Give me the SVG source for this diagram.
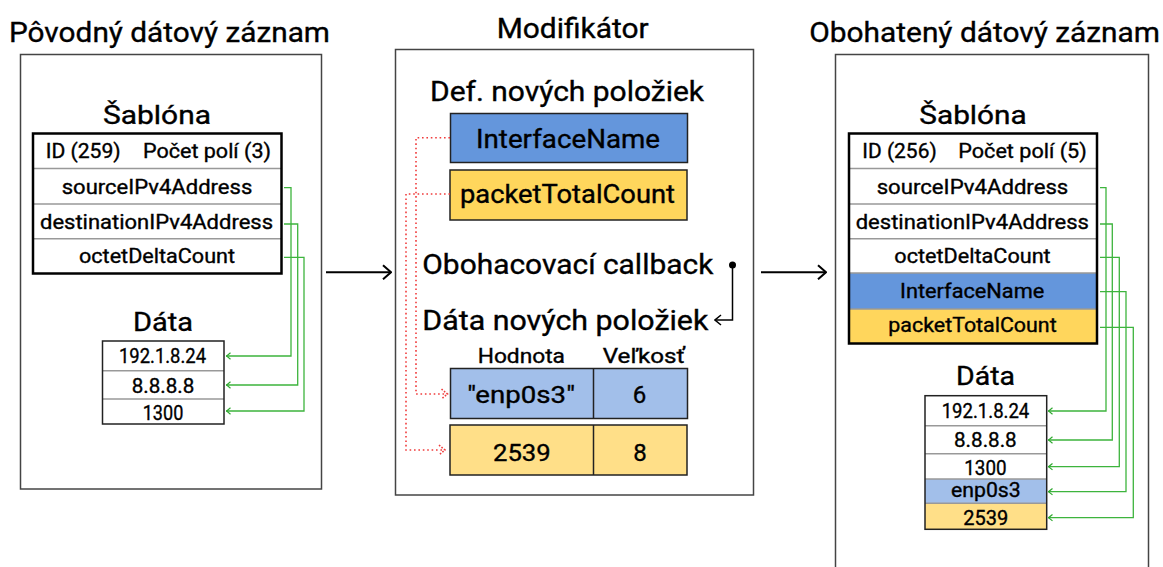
<svg xmlns="http://www.w3.org/2000/svg" width="1163" height="567" viewBox="0 0 1163 567">
<style>
text{font-family:Roboto,"Liberation Sans",sans-serif;fill:#000;font-weight:400;stroke:#000;stroke-width:0.35}
.t28{font-size:28px}
.t27{font-size:27px}
.t26{font-size:26px}
.t25{font-size:25px}
.t24{font-size:24px}
.t20{font-size:20px}
.mid{text-anchor:middle}
.outer{fill:#fff;stroke:#444;stroke-width:1.5}
.tbl{fill:none;stroke:#000;stroke-width:2.5}
.dtbl{fill:none;stroke:#222;stroke-width:1.5}
.sep{stroke:#999;stroke-width:1.5}
.blue{fill:#6496DC}
.lblue{fill:#A2BFEA}
.yel{fill:#FFD65C}
.lyel{fill:#FFDF88}
.cell{stroke:#222;stroke-width:1.5}
.green{fill:none;stroke:#3DB43D;stroke-width:1.3;marker-end:url(#ag)}
.red{fill:none;stroke:#F03C3C;stroke-width:1.6;stroke-dasharray:1.6 2.8;marker-end:url(#ar)}
.blk{fill:none;stroke:#000;stroke-width:2;marker-end:url(#ab)}
</style>
<defs>
<marker id="ab" markerUnits="userSpaceOnUse" viewBox="0 0 10 16" markerWidth="10" markerHeight="16" refX="9" refY="8" orient="auto"><path d="M1,1 L9,8 L1,15" fill="none" stroke="#000" stroke-width="2"/></marker>
<marker id="ab2" markerUnits="userSpaceOnUse" viewBox="0 0 8 12" markerWidth="8" markerHeight="12" refX="7" refY="6" orient="auto"><path d="M1,1 L7,6 L1,11" fill="none" stroke="#000" stroke-width="1.5"/></marker>
<marker id="ag" markerUnits="userSpaceOnUse" viewBox="0 0 6 8" markerWidth="6" markerHeight="8" refX="5.5" refY="4" orient="auto"><path d="M1,0.8 L5,4 L1,7.2" fill="none" stroke="#2FA82F" stroke-width="1.2"/></marker>
<marker id="ar" markerUnits="userSpaceOnUse" viewBox="0 0 8 12" markerWidth="8" markerHeight="12" refX="7" refY="6" orient="auto"><path d="M1,1 L7,6 L1,11" fill="none" stroke="#F03C3C" stroke-width="1.6" stroke-dasharray="1.6 1.6"/></marker>
</defs>
<rect width="1163" height="567" fill="#fff"/>

<g id="original">
<text class="t28" x="9" y="42" textLength="321" lengthAdjust="spacingAndGlyphs">Pôvodný dátový záznam</text>
<rect class="outer" x="20.5" y="54.5" width="301" height="434.5"/>
<g id="orig-template">
<text class="t25" x="103" y="124" textLength="108" lengthAdjust="spacingAndGlyphs">Šablóna</text>
<rect x="33" y="133.5" width="248.5" height="140" fill="#fff"/>
<line class="sep" x1="33" y1="168.5" x2="281.5" y2="168.5"/>
<line class="sep" x1="33" y1="204" x2="281.5" y2="204"/>
<line class="sep" x1="33" y1="238.7" x2="281.5" y2="238.7"/>
<rect class="tbl" x="33" y="133.5" width="248.5" height="140"/>
<text class="t20" x="45.7" y="158" textLength="75" lengthAdjust="spacingAndGlyphs">ID (259)</text>
<text class="t20" x="143" y="158" textLength="128" lengthAdjust="spacingAndGlyphs">Počet polí (3)</text>
<text class="t20" x="61.7" y="194" textLength="190.6" lengthAdjust="spacingAndGlyphs">sourceIPv4Address</text>
<text class="t20" x="40" y="229" textLength="233" lengthAdjust="spacingAndGlyphs">destinationIPv4Address</text>
<text class="t20" x="79" y="263.3" textLength="156" lengthAdjust="spacingAndGlyphs">octetDeltaCount</text>
</g>
<g id="orig-data">
<text class="t26" x="133" y="331" textLength="60" lengthAdjust="spacingAndGlyphs">Dáta</text>
<rect x="102.5" y="341" width="121.5" height="83" fill="#fff"/>
<line class="sep" x1="102.5" y1="370.7" x2="224" y2="370.7"/>
<line class="sep" x1="102.5" y1="399" x2="224" y2="399"/>
<rect class="dtbl" x="102.5" y="341" width="121.5" height="83"/>
<text class="t20" x="119" y="363" textLength="87" lengthAdjust="spacingAndGlyphs">192.1.8.24</text>
<text class="t20" x="131.7" y="392.5" textLength="62.6" lengthAdjust="spacingAndGlyphs">8.8.8.8</text>
<text class="t20" x="142.7" y="420" textLength="40.6" lengthAdjust="spacingAndGlyphs">1300</text>
</g>
</g>

<g id="modifier">
<text class="t28" x="496.7" y="37.7" textLength="152" lengthAdjust="spacingAndGlyphs">Modifikátor</text>
<rect class="outer" x="395.5" y="49.5" width="358" height="445.5"/>
<text class="t27" x="430" y="101" textLength="274" lengthAdjust="spacingAndGlyphs">Def. nových položiek</text>
<g id="def-iface">
<rect class="blue cell" x="450.5" y="113.5" width="237" height="49"/>
<text class="t25" x="476" y="147.5" textLength="184" lengthAdjust="spacingAndGlyphs">InterfaceName</text>
</g>
<g id="def-packet">
<rect class="yel cell" x="450" y="170" width="237" height="50"/>
<text class="t25" x="460" y="202.7" textLength="215" lengthAdjust="spacingAndGlyphs">packetTotalCount</text>
</g>
<text class="t27" x="422.3" y="274.3" textLength="291" lengthAdjust="spacingAndGlyphs">Obohacovací callback</text>
<text class="t27" x="422.3" y="330" textLength="286" lengthAdjust="spacingAndGlyphs">Dáta nových položiek</text>
<text class="t20" x="477.7" y="362.7" textLength="87.3" lengthAdjust="spacingAndGlyphs">Hodnota</text>
<text class="t20" x="602.7" y="362.7" textLength="82.3" lengthAdjust="spacingAndGlyphs">Veľkosť</text>
<g id="val-iface">
<rect class="lblue cell" x="450.5" y="368.5" width="237" height="50"/>
<line class="cell" x1="593.5" y1="368.5" x2="593.5" y2="418.5"/>
<text class="t24" x="467.3" y="403.3" textLength="107.7" lengthAdjust="spacingAndGlyphs">"enp0s3"</text>
<text class="t24 mid" x="639.5" y="403.3">6</text>
</g>
<g id="val-packet">
<rect class="lyel cell" x="450" y="425" width="237" height="50"/>
<line class="cell" x1="593.5" y1="425" x2="593.5" y2="475"/>
<text class="t24" x="493" y="461" textLength="57.7" lengthAdjust="spacingAndGlyphs">2539</text>
<text class="t24 mid" x="640" y="461">8</text>
</g>
</g>

<g id="enriched">
<text class="t28" x="809.3" y="41.7" textLength="350.7" lengthAdjust="spacingAndGlyphs">Obohatený dátový záznam</text>
<rect class="outer" x="835.5" y="54.5" width="313" height="530"/>
<g id="enr-template">
<text class="t25" x="919.3" y="124" textLength="107.4" lengthAdjust="spacingAndGlyphs">Šablóna</text>
<rect x="849" y="133.5" width="248" height="140" fill="#fff"/>
<rect class="blue" x="849" y="273" width="248" height="36"/>
<rect class="yel" x="849" y="309" width="248" height="34.5"/>
<line class="sep" x1="849" y1="168.5" x2="1097" y2="168.5"/>
<line class="sep" x1="849" y1="204" x2="1097" y2="204"/>
<line class="sep" x1="849" y1="238.7" x2="1097" y2="238.7"/>
<line class="sep" x1="849" y1="273" x2="1097" y2="273"/>
<line class="sep" x1="849" y1="309" x2="1097" y2="309"/>
<rect class="tbl" x="849" y="133.5" width="248" height="210"/>
<text class="t20" x="862.3" y="158" textLength="74.4" lengthAdjust="spacingAndGlyphs">ID (256)</text>
<text class="t20" x="958.3" y="158" textLength="128.4" lengthAdjust="spacingAndGlyphs">Počet polí (5)</text>
<text class="t20" x="876.7" y="194" textLength="191.6" lengthAdjust="spacingAndGlyphs">sourceIPv4Address</text>
<text class="t20" x="855.7" y="229" textLength="233.3" lengthAdjust="spacingAndGlyphs">destinationIPv4Address</text>
<text class="t20" x="894.3" y="263.3" textLength="156.4" lengthAdjust="spacingAndGlyphs">octetDeltaCount</text>
<text class="t20" x="900" y="298.3" textLength="144.3" lengthAdjust="spacingAndGlyphs">InterfaceName</text>
<text class="t20" x="888.3" y="331.7" textLength="168.4" lengthAdjust="spacingAndGlyphs">packetTotalCount</text>
</g>
<g id="enr-data">
<text class="t26" x="956" y="385" textLength="59" lengthAdjust="spacingAndGlyphs">Dáta</text>
<rect x="925" y="395.7" width="121.7" height="83.3" fill="#fff"/>
<rect class="lblue" x="925" y="479" width="121.7" height="24.3"/>
<rect class="lyel" x="925" y="503.3" width="121.7" height="26"/>
<line class="sep" x1="925" y1="425.7" x2="1046.7" y2="425.7"/>
<line class="sep" x1="925" y1="453.7" x2="1046.7" y2="453.7"/>
<line class="sep" x1="925" y1="479" x2="1046.7" y2="479"/>
<line class="sep" x1="925" y1="503.3" x2="1046.7" y2="503.3"/>
<rect class="dtbl" x="925" y="395.7" width="121.7" height="133.6"/>
<text class="t20" x="941.7" y="418.3" textLength="87.6" lengthAdjust="spacingAndGlyphs">192.1.8.24</text>
<text class="t20" x="954" y="446.7" textLength="62.7" lengthAdjust="spacingAndGlyphs">8.8.8.8</text>
<text class="t20" x="964.3" y="475" textLength="42.3" lengthAdjust="spacingAndGlyphs">1300</text>
<text class="t20" x="951" y="497" textLength="69.7" lengthAdjust="spacingAndGlyphs">enp0s3</text>
<text class="t20" x="963.3" y="525" textLength="45" lengthAdjust="spacingAndGlyphs">2539</text>
</g>
</g>

<g id="connectors">
<path class="blk" d="M326,272.3 H391"/>
<path class="blk" d="M761,272.3 H826"/>
<circle cx="732.5" cy="265" r="3.5" fill="#000"/>
<path d="M732.5,265 V320 H715" fill="none" stroke="#000" stroke-width="1.5" marker-end="url(#ab2)"/>
<path class="red" d="M450,137.7 H416 V394 H447.5"/>
<path class="red" d="M450,194 H406 V450 H445"/>
<path class="green" d="M284,187.7 H291 V356 H226"/>
<path class="green" d="M284,224 H297.7 V385 H226"/>
<path class="green" d="M284,257.3 H304 V411 H226"/>
<path class="green" d="M1100,187.7 H1106 V411 H1048"/>
<path class="green" d="M1100,224 H1112.3 V440 H1048"/>
<path class="green" d="M1100,257.3 H1119.3 V466.7 H1048"/>
<path class="green" d="M1100,291.7 H1126 V491.7 H1048"/>
<path class="green" d="M1100,327.3 H1133.3 V517.7 H1048"/>
</g>
</svg>
